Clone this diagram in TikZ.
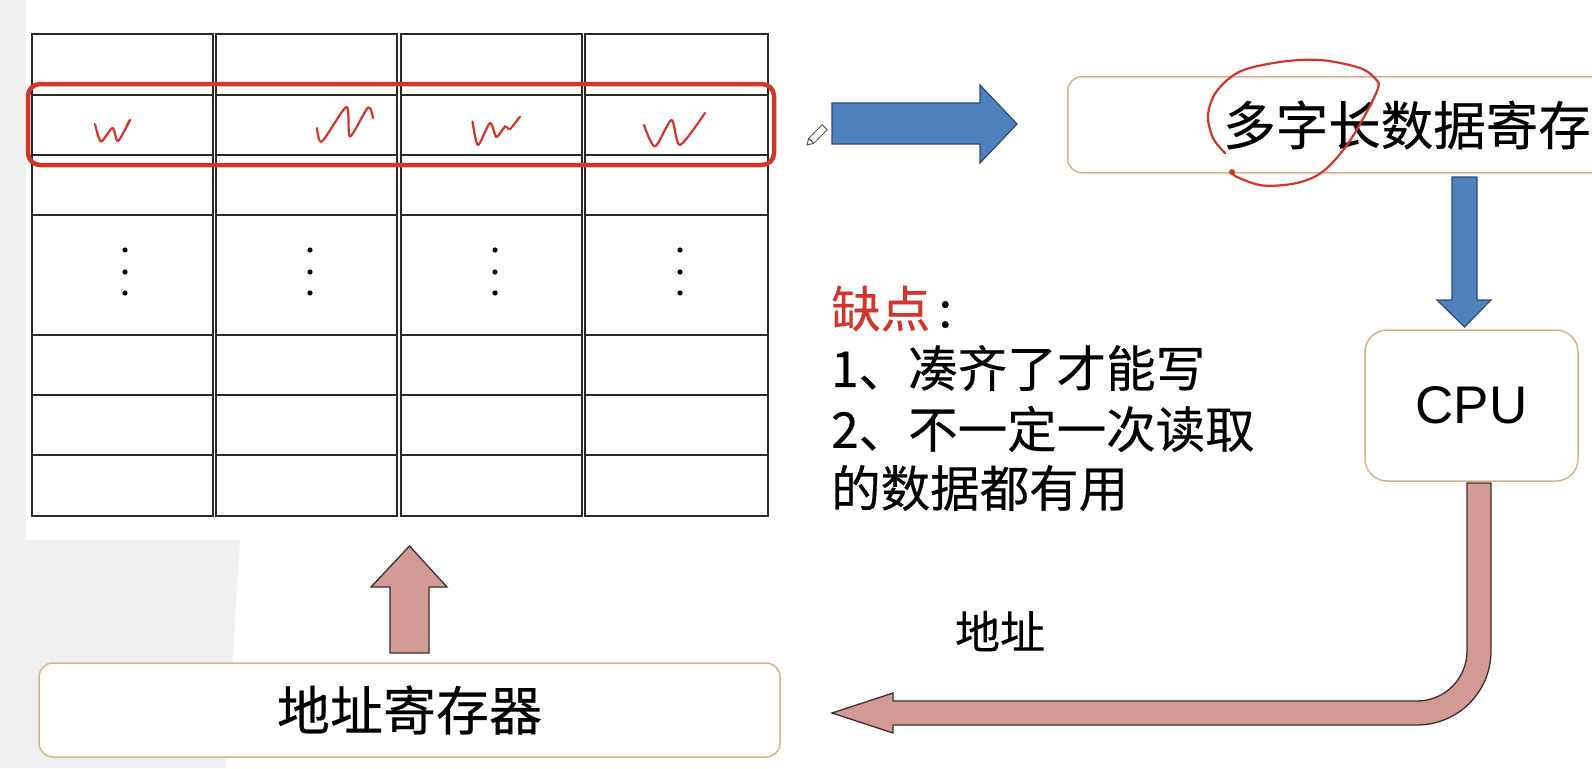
\documentclass[tikz,border=0pt]{standalone}
\usepackage{fontspec}
\setmainfont{Noto Sans CJK SC}[FakeBold=0.35]
\newfontfamily\arialfont{Liberation Sans}
\definecolor{boxedge}{HTML}{D9B28A}
\definecolor{blueA}{HTML}{4F81BD}
\definecolor{blueE}{HTML}{2B4A74}
\definecolor{pinkA}{HTML}{D39A95}
\definecolor{pinkE}{HTML}{3A3030}
\definecolor{hred}{HTML}{D4352B}
\definecolor{gridc}{HTML}{2A2A2A}
\definecolor{bggray}{HTML}{F0F0F0}
\begin{document}
\begin{tikzpicture}[x=1pt,y=-1pt,
  regbox/.style={draw=boxedge, line width=1.5pt, rounded corners=14pt, fill=white, inner sep=0pt},
  cell/.style={draw=gridc, line width=2.5pt},
  blockblue/.style={fill=blueA, draw=blueE, line width=1.2pt, line join=miter},
  blockpink/.style={fill=pinkA, draw=pinkE, line width=1.3pt, line join=miter},
  ink/.style={draw=hred, line width=2.2pt, line cap=round, line join=round},
  txt/.style={inner sep=0pt, text=black},
  listtxt/.style={txt, anchor=west, font=\fontsize{49.5}{58}\selectfont}]
\useasboundingbox (0,0) rectangle (1592,768);
% background
\fill[white] (0,0) rectangle (1592,768);
\fill[bggray] (0,0) rectangle (26,768);
\fill[bggray] (0,540) -- (240,540) -- (226,768) -- (0,768) -- cycle;

% memory grid (four columns)
\foreach \l/\r in {32/213, 216/397, 401/582, 585/768}{
  \draw[cell] (\l,34) rectangle (\r,516);
  \foreach \y in {95,155,215,335,395,455}{
    \draw[cell] (\l,\y) -- (\r,\y);
  }
}
\foreach \x in {125,310,495,680}{
  \foreach \y in {250,272,293}{
    \fill[black] (\x,\y) circle (2.6pt);
  }
}
% red highlight of one row
\draw[hred, line width=4.5pt, rounded corners=12pt] (28,84) rectangle (774,165);
% handwritten w's
\draw[ink] plot[smooth, tension=0.45] coordinates {(95,124) (101,141.5) (112.5,128) (118,141) (130,120)};
\draw[ink] (130,120) -- (127,125);
\draw[ink] plot[smooth, tension=0.45] coordinates {(317,128) (322,141.5) (346.5,107) (350,136.5) (368,107.5) (373,118)};
\draw[ink] plot[smooth, tension=0.45] coordinates {(472.5,121.5) (478,145) (490,123) (496.5,137) (505,126.5) (510,129) (520,116.5)};
\draw[ink] plot[smooth, tension=0.45] coordinates {(644,125) (655,146.5) (671.5,120) (680,145) (705,113)};

% pencil cursor
\draw[gray!70!black, fill=white, line width=1pt, line join=round]
  (807,145) -- (813.7,143.3) -- (827.2,129.8) -- (822.2,124.8) -- (808.7,138.3) -- cycle;
\draw[gray!70!black, line width=1pt] (813.7,143.3) -- (808.7,138.3);

% blue arrow right
\draw[blockblue] (832,103) -- (980,103) -- (980,85) -- (1017,124) -- (980,163) -- (980,144) -- (832,144) -- cycle;

% multi-word data register
\node[regbox, minimum width=560pt, minimum height=96pt, anchor=north west] (datareg) at (1067,76) {};
\node[txt, anchor=west, font=\fontsize{52.5}{60}\selectfont] (datatxt) at (1223,125) {多字长数据寄存};
\draw[hred, line width=2.2pt, line cap=round] plot[smooth, tension=0.55] coordinates {
  (1232,172) (1237,177) (1263,185.5) (1297,183) (1323,171.5) (1347,145) (1367,111.5) (1378,88)
  (1376.5,80) (1360,68) (1320,60) (1280,62) (1240,71.5) (1216.5,91.5) (1208,115) (1213,138) (1225,153)};
\fill[hred] (1232,172) circle (3pt);

% blue arrow down
\draw[blockblue] (1452,177) -- (1477,177) -- (1477,300) -- (1491,300) -- (1464.5,327) -- (1437,300) -- (1452,300) -- cycle;

% CPU
\node[regbox, rounded corners=22pt, minimum width=213pt, minimum height=151pt,
      font=\arialfont\fontsize{53}{60}\selectfont] (cpu) at (1471.5,405.5) {CPU};

% drawbacks text
\node[listtxt] (l1) at (831,308.5) {\textcolor{hred}{缺点}\,:};
\node[listtxt] (l2) at (831,368) {1、凑齐了才能写};
\node[listtxt] (l3) at (831,429) {2、不一定一次读取};
\node[listtxt] (l4) at (831,488) {的数据都有用};

% bent pink arrow CPU -> address register
\draw[blockpink] (1467,483) -- (1491,483) -- (1491,651) .. controls (1491,691.9) and (1457.9,725) .. (1417,725)
  -- (893,725) -- (893,733) -- (832,713) -- (893,693) -- (893,701) -- (1417,701)
  .. controls (1444.6,701) and (1467,678.6) .. (1467,651) -- cycle;
\node[txt, font=\fontsize{45}{52}\selectfont] (addrlbl) at (1000,631) {地址};

% address register
\node[regbox, minimum width=741pt, minimum height=94pt,
      font=\fontsize{53}{60}\selectfont] (addrreg) at (409.5,710) {地址寄存器};

% pink arrow up
\draw[blockpink] (390,653) -- (429,653) -- (429,587) -- (447,587) -- (409.5,546) -- (371,587) -- (390,587) -- cycle;
\end{tikzpicture}
\end{document}
